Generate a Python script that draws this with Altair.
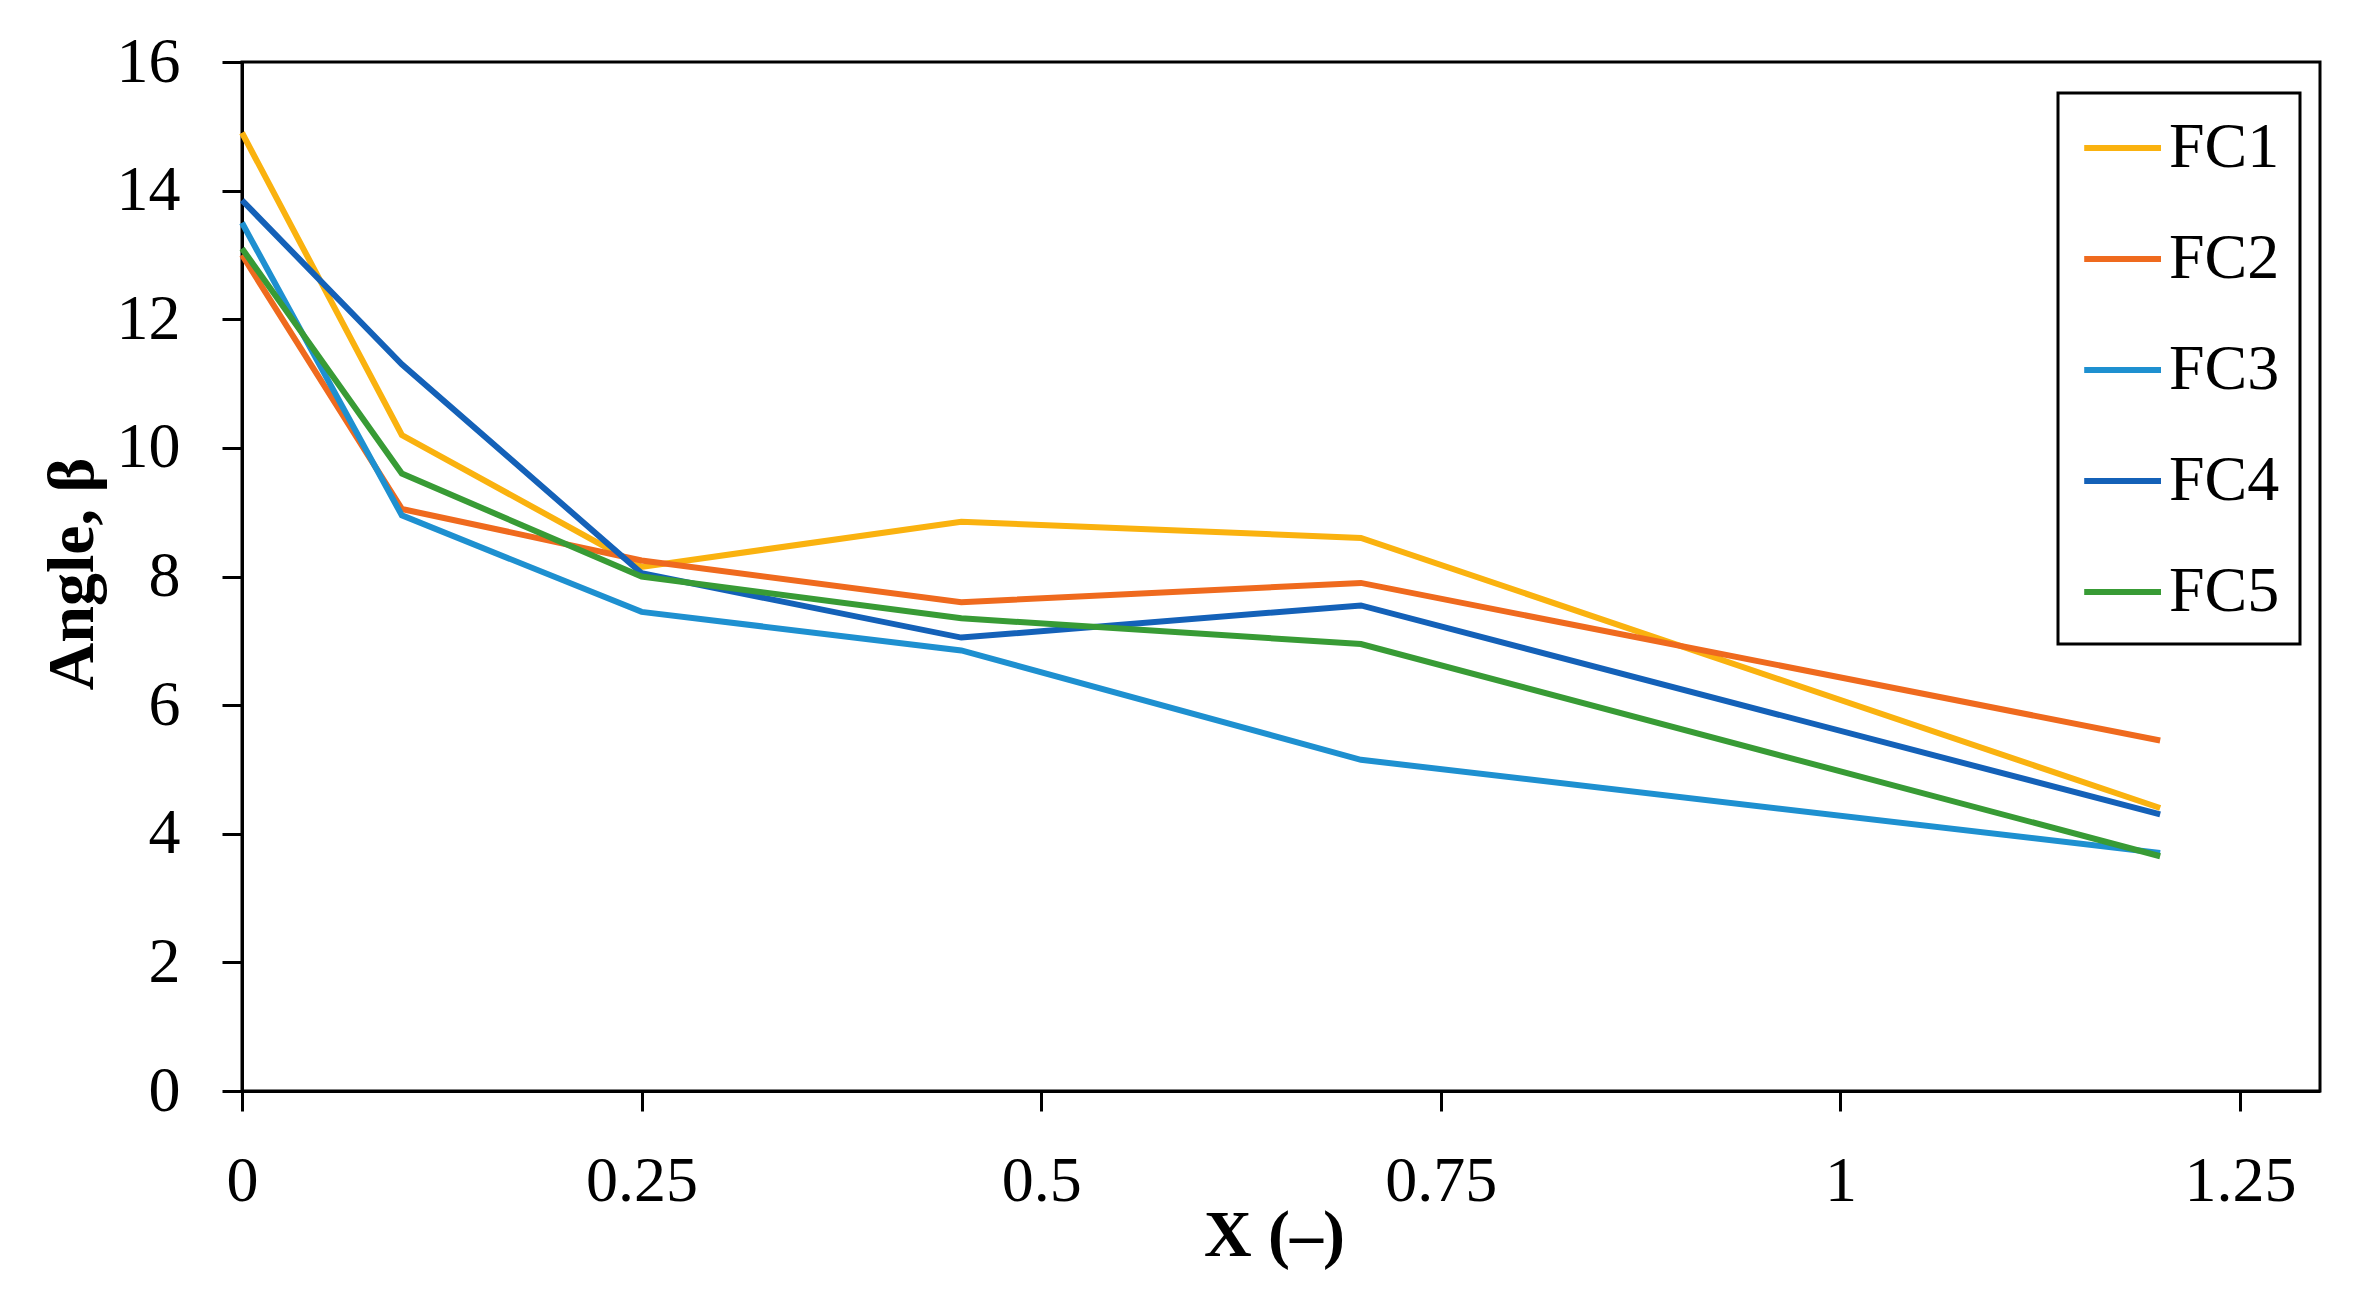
import altair as alt
import pandas as pd

x_vals = [0, 0.1, 0.25, 0.45, 0.7, 1.2]
series_names = ["FC1", "FC2", "FC3", "FC4", "FC5"]
fc1 = [14.9, 10.2, 8.15, 8.85, 8.6, 4.4]
fc2 = [13.0, 9.05, 8.25, 7.6, 7.9, 5.45]
fc3 = [13.5, 8.95, 7.45, 6.85, 5.15, 3.7]
fc4 = [13.85, 11.3, 8.05, 7.05, 7.55, 4.3]
fc5 = [13.1, 9.6, 8.0, 7.35, 6.95, 3.65]
colors = ["#FAB20F", "#EF6A1E", "#1E90D0", "#1461B8", "#389B35"]
x_ticks = [0, 0.25, 0.5, 0.75, 1, 1.25]
y_ticks = [0, 2, 4, 6, 8, 10, 12, 14, 16]

rows = []
for name, vals in zip(series_names, [fc1, fc2, fc3, fc4, fc5]):
    for xv, yv in zip(x_vals, vals):
        rows.append({"X": xv, "Angle": yv, "Series": name})
df = pd.DataFrame(rows)

FONT = "Liberation Serif"
W, H = 2078, 1029


def build(legend_kwargs, legend_cfg):
    chart = alt.Chart(df).mark_line(strokeWidth=6, strokeCap="butt", strokeJoin="miter").encode(
        x=alt.X("X:Q", scale=alt.Scale(domain=[0, 1.3], nice=False, zero=False),
                axis=alt.Axis(values=x_ticks, format=".3~g", title="X (–)",
                              titleX=W / 2 - 7, titleY=164, titleBaseline="alphabetic",
                              labelPadding=38, labelFlush=False)),
        y=alt.Y("Angle:Q", scale=alt.Scale(domain=[0, 16], nice=False),
                axis=alt.Axis(values=y_ticks, format="d", title="Angle, β",
                              titleX=-170, titleY=H / 2 - 3, titleBaseline="middle",
                              titleAngle=-90, labelPadding=42, labelFlush=False)),
        color=alt.Color("Series:N",
                        scale=alt.Scale(domain=series_names, range=colors),
                        legend=alt.Legend(title=None, orient="none",
                                          legendX=1816, legendY=31,
                                          symbolType="M-0.9,0H1.5", symbolSize=4096,
                                          symbolStrokeWidth=6, labelFontSize=64,
                                          labelFont=FONT, labelColor="black",
                                          labelOffset=21, rowPadding=44, padding=20,
                                          strokeColor="black", **legend_kwargs)),
        order=alt.Order("Series:N"),
    ).properties(
        width=W, height=H,
        autosize=alt.AutoSizeParams(type="none"),
        padding={"left": 234, "top": 54, "right": 29, "bottom": 200},
        background="white",
    ).configure_view(
        stroke="black", strokeWidth=3
    ).configure_axis(
        grid=False, domainColor="black", domainWidth=3, tickColor="black",
        tickWidth=3, tickSize=20, labelFont=FONT, labelFontSize=64,
        labelColor="black", titleFont=FONT, titleFontSize=66,
        titleFontWeight="bold", titleColor="black",
    ).configure_legend(**legend_cfg)
    return chart


enc = {"encode": {"legend": {"update": {"strokeWidth": {"value": 3}}}}}
chart = None
for lk, lc in [(enc, {"strokeWidth": 3}), ({}, {"strokeWidth": 3}), (enc, {}), ({}, {})]:
    try:
        c = build(lk, lc)
        c.to_dict()
        chart = c
        break
    except Exception:
        continue

chart.save("out.html", embed_options={"renderer": "svg", "actions": False})
